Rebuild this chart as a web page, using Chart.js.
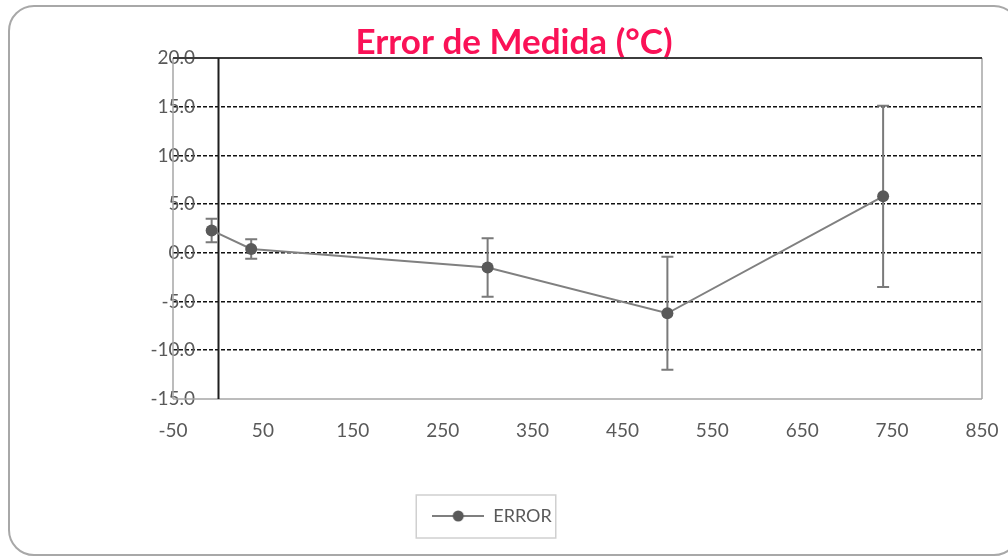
<!DOCTYPE html>
<html>
<head>
<meta charset="utf-8">
<script src="https://cdn.jsdelivr.net/npm/chart.js@4"></script>
<style>
  html, body { margin: 0; padding: 0; background: #fff; overflow: hidden; width: 1008px; height: 558px; }
  #frame { position: absolute; left: 8px; top: 5px; width: 1012px; height: 551px; border: 2px solid #a8a8a8; border-radius: 26px; box-sizing: border-box; }
  #wrap { position: absolute; left: 0; top: 0; width: 1008px; height: 558px; }
</style>
</head>
<body>
<div id="frame"></div>
<div id="wrap"><canvas id="c" width="1008" height="558"></canvas></div>
<script>
// Measurement points: reference temperature vs. measured error, with uncertainty
const temperatures = [-7, 37, 300, 500, 740];
const errors = [2.3, 0.4, -1.5, -6.2, 5.8];
const uncertainty = [1.2, 1.0, 3.0, 5.8, 9.3];

const xTickValues = [-50, 50, 150, 250, 350, 450, 550, 650, 750, 850];
const yTickValues = [-15, -10, -5, 0, 5, 10, 15, 20];

const seriesName = 'ERROR';
const chartTitle = 'Error de Medida (°C)';

const FONT = 'Lato, "Open Sans", sans-serif';
const TEXT_GREY = '#595959';
const TICK_SIZE = 19;

const yLabel = v => Number(v).toFixed(1);

// widest value label, used to right-align the mirrored y labels
const yLabelWidest = (function () {
  const m = document.createElement('canvas').getContext('2d');
  m.font = 'normal ' + TICK_SIZE + 'px ' + FONT;
  return Math.max(...yTickValues.map(v => m.measureText(yLabel(v)).width));
})();

// Legend glyph: short line with a dot in the middle
const legendGlyph = document.createElement('canvas');
legendGlyph.width = 52;
legendGlyph.height = 14;
(function () {
  const g = legendGlyph.getContext('2d');
  g.strokeStyle = '#7f7f7f';
  g.lineWidth = 2;
  g.beginPath(); g.moveTo(0, 7); g.lineTo(52, 7); g.stroke();
  g.fillStyle = '#595959';
  g.beginPath(); g.arc(26, 7, 5.5, 0, Math.PI * 2); g.fill();
})();

// Plot frame, vertical axis crossing at x = 0, and error bars
const plotDecor = {
  id: 'plotDecor',
  afterLayout(chart) {
    const lg = chart.legend;
    if (lg) { lg.left -= 22; lg.right -= 22; }
  },
  beforeDatasetsDraw(chart) {
    const { ctx, chartArea: a, scales: { x, y } } = chart;
    ctx.save();
    ctx.lineWidth = 1.5;
    ctx.strokeStyle = '#a6a6a6';
    ctx.beginPath();
    ctx.moveTo(a.left, a.top); ctx.lineTo(a.left, a.bottom);
    ctx.moveTo(a.right, a.top); ctx.lineTo(a.right, a.bottom);
    ctx.moveTo(a.left, a.bottom); ctx.lineTo(a.right, a.bottom);
    ctx.stroke();

    ctx.strokeStyle = '#3c3c3c';
    ctx.lineWidth = 2;
    ctx.beginPath();
    ctx.moveTo(a.left, a.top); ctx.lineTo(a.right, a.top);
    ctx.stroke();

    const x0 = Math.round(x.getPixelForValue(0)) + 0.5;
    ctx.strokeStyle = '#1e1e1e';
    ctx.lineWidth = 2;
    ctx.beginPath();
    ctx.moveTo(x0, a.top); ctx.lineTo(x0, a.bottom);
    ctx.stroke();

    // error bars
    ctx.strokeStyle = '#7a7a7a';
    ctx.lineWidth = 2;
    ctx.beginPath();
    temperatures.forEach((t, i) => {
      const px = x.getPixelForValue(t);
      const yt = y.getPixelForValue(errors[i] + uncertainty[i]);
      const yb = y.getPixelForValue(errors[i] - uncertainty[i]);
      ctx.moveTo(px, yt); ctx.lineTo(px, yb);
      ctx.moveTo(px - 6, yt); ctx.lineTo(px + 6, yt);
      ctx.moveTo(px - 6, yb); ctx.lineTo(px + 6, yb);
    });
    ctx.stroke();
    ctx.restore();
  },
  afterDraw(chart) {
    const lg = chart.legend;
    if (!lg || !lg.legendHitBoxes || !lg.legendHitBoxes.length) return;
    const hb = lg.legendHitBoxes[0];
    const cy = hb.top + 9;
    const { ctx } = chart;
    ctx.save();
    ctx.strokeStyle = '#d0d0d0';
    ctx.lineWidth = 1.5;
    ctx.strokeRect(hb.left - 16, cy - 21, hb.width + 20, 43);
    ctx.restore();
  }
};

new Chart(document.getElementById('c'), {
  type: 'scatter',
  data: {
    datasets: [{
      label: seriesName,
      data: temperatures.map((t, i) => ({ x: t, y: errors[i] })),
      showLine: true,
      tension: 0,
      borderColor: '#808080',
      borderWidth: 2,
      pointRadius: 6,
      pointHoverRadius: 6,
      pointBackgroundColor: '#595959',
      pointBorderColor: '#595959',
      pointBorderWidth: 0
    }]
  },
  options: {
    responsive: false,
    animation: false,
    devicePixelRatio: 1,
    layout: { padding: { left: 46, right: 26, top: 0, bottom: 23 } },
    plugins: {
      title: {
        display: true,
        text: chartTitle,
        color: '#FA1257',
        font: { family: FONT, size: 35, weight: 'bold', lineHeight: 1.2 },
        padding: { top: 21.5, bottom: -5.5 }
      },
      legend: {
        position: 'bottom',
        labels: {
          usePointStyle: true,
          pointStyleWidth: 52,
          padding: 10,
          color: TEXT_GREY,
          font: { family: FONT, size: 18 },
          generateLabels: () => [{
            text: seriesName,
            pointStyle: legendGlyph,
            fontColor: TEXT_GREY,
            fillStyle: 'rgba(0,0,0,0)',
            strokeStyle: 'rgba(0,0,0,0)',
            lineWidth: 0,
            hidden: false,
            datasetIndex: 0
          }]
        }
      },
      tooltip: { enabled: false }
    },
    scales: {
      x: {
        type: 'linear',
        min: -50,
        max: 850,
        afterBuildTicks: s => { s.ticks = xTickValues.map(v => ({ value: v })); },
        afterFit: s => { s.height = 98; },
        grid: { display: false, drawTicks: true, tickLength: 20 },
        border: { display: false },
        ticks: {
          padding: 0,
          color: TEXT_GREY,
          font: { family: FONT, size: TICK_SIZE },
          maxRotation: 0,
          autoSkip: false,
          callback: v => String(v)
        }
      },
      y: {
        type: 'linear',
        min: -15,
        max: 20,
        afterBuildTicks: s => { s.ticks = yTickValues.map(v => ({ value: v })); },
        afterFit: s => { s.width = 127; },
        grid: {
          drawTicks: false,
          lineWidth: 1.6,
          color: c => (c.tick && (c.tick.value === 20 || c.tick.value === -15)) ? 'rgba(0,0,0,0)' : '#111111'
        },
        border: { display: false, dash: [4, 2] },
        ticks: {
          mirror: true,
          crossAlign: 'far',
          padding: 22 - yLabelWidest,
          color: TEXT_GREY,
          font: { family: FONT, size: TICK_SIZE },
          callback: yLabel
        }
      }
    }
  },
  plugins: [plotDecor]
});
</script>
</body>
</html>
